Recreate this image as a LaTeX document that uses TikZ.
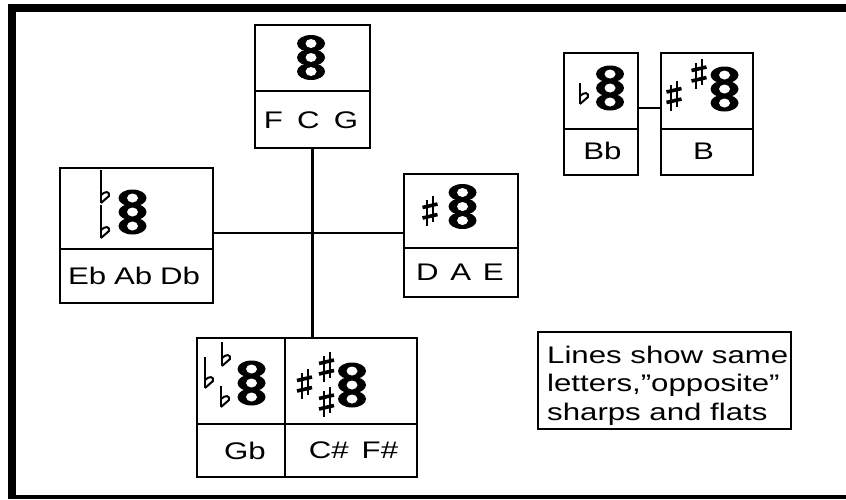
\documentclass[tikz,border=0pt]{standalone}
\usepackage{fontspec}
\setmainfont{Liberation Sans}
\usepackage{graphicx}
\newcommand\sx[1]{\scalebox{1.3}[1]{#1}}
\newcommand\flatat[3]{%
  \draw[line width=2pt] (#1,#2) -- (#1,#3);
  \draw[line width=2pt, line join=round] (#1,#3-8) .. controls (#1+4,#3-12) and (#1+9,#3-12) .. (#1+8,#3-7) -- (#1,#3);}
\tikzset{
  cell/.style={draw, line width=2.1pt, inner sep=0pt, outer sep=0pt},
  conn/.style={line width=2.1pt},
  labeltext/.style={inner sep=0pt, font=\fontsize{24}{24}\selectfont},
  legendtext/.style={inner sep=0pt, anchor=base west, font=\fontsize{24}{24}\selectfont},
  triad/.pic={
    \foreach \dy in {-14,0,14} \fill[black] (0,\dy) ellipse [x radius=14pt, y radius=8.5pt];
    \foreach \dy in {-14,0,14} \fill[white] (0,\dy) ellipse [x radius=5.5pt, y radius=4.5pt];
  },
  sharpsign/.pic={
    \draw[line width=2pt] (-3,-11) -- (-3,15) (3,-15) -- (3,11);
    \draw[line width=3.6pt] (-7.5,-3.5) -- (7.5,-7) (-7.5,7) -- (7.5,3.5);
  }
}
\begin{document}
\begin{tikzpicture}[x=1pt,y=-1pt]
\useasboundingbox (0,0) rectangle (846,499);
% frame
\fill (8,4) rectangle (846,12);
\fill (8,4) rectangle (16,499);
\fill (8,495) rectangle (846,499);

% F C G
\node[cell, minimum width=115pt, minimum height=66pt] (fcgU) at (312.5,58) {};
\node[cell, minimum width=115pt, minimum height=57pt] (fcgL) at (312.5,119.5) {};
\pic at (311,57.5) {triad};
\node[labeltext] (fcgT) at (311,120) {\sx{F\hspace{11pt}C\hspace{11pt}G}};

% Eb Ab Db
\node[cell, minimum width=153pt, minimum height=81pt] (flU) at (136.5,208.5) {};
\node[cell, minimum width=153pt, minimum height=54pt] (flL) at (136.5,276) {};
\pic at (132.5,212) {triad};
\flatat{101}{170}{203}
\flatat{101}{205}{238}
\node[labeltext] (flT) at (134,276) {\sx{Eb\hspace{6pt}Ab\hspace{6pt}Db}};

% D A E
\node[cell, minimum width=114pt, minimum height=74pt] (daeU) at (461,211) {};
\node[cell, minimum width=114pt, minimum height=49pt] (daeL) at (461,272.5) {};
\pic at (462.5,206.5) {triad};
\pic at (430,211) {sharpsign};
\node[labeltext] (daeT) at (460,272.5) {\sx{D\hspace{9pt}A\hspace{9pt}E}};

% Gb and C# F#
\node[cell, minimum width=88pt, minimum height=86pt] (gbU) at (241,381) {};
\node[cell, minimum width=88pt, minimum height=53pt] (gbL) at (241,450.5) {};
\node[cell, minimum width=132pt, minimum height=86pt] (csU) at (351,381) {};
\node[cell, minimum width=132pt, minimum height=53pt] (csL) at (351,450.5) {};
\pic at (251.5,383) {triad};
\flatat{205}{357}{388}
\flatat{222}{342}{366}
\flatat{221}{386}{407}
\node[labeltext] (gbT) at (245,450.5) {\sx{Gb}};
\pic at (352,385) {triad};
\pic at (304.5,384) {sharpsign};
\pic at (326.5,367) {sharpsign};
\pic at (326.5,402) {sharpsign};
\node[labeltext] (csT) at (353.5,450.5) {\sx{C\#\hspace{10pt}F\#}};

% Bb and B
\node[cell, minimum width=74pt, minimum height=76pt] (bbU) at (601,91) {};
\node[cell, minimum width=74pt, minimum height=46pt] (bbL) at (601,152) {};
\node[cell, minimum width=92pt, minimum height=76pt] (bU) at (707,91) {};
\node[cell, minimum width=92pt, minimum height=46pt] (bL) at (707,152) {};
\pic at (610,88) {triad};
\flatat{580}{83}{104}
\node[labeltext] (bbT) at (602.5,151) {\sx{Bb}};
\pic at (724.5,89) {triad};
\pic at (674,95.5) {sharpsign};
\pic at (699,74) {sharpsign};
\node[labeltext] (bT) at (703.5,151) {\sx{B}};

% connectors
\coordinate (hy) at (0,233);
\coordinate (by) at (0,108);
\draw[conn] (fcgL.south) -- (fcgL.south |- csU.north);
\draw[conn] (flU.east |- hy) -- (daeU.west |- hy);
\draw[conn] (bbU.east |- by) -- (bU.west |- by);

% legend
\node[cell, minimum width=253pt, minimum height=97pt] (legend) at (664.5,380.5) {};
\node[legendtext] (lg1) at (547,363) {\sx{Lines show same}};
\node[legendtext] (lg2) at (547,391.5) {\sx{letters,"opposite"}};
\node[legendtext] (lg3) at (547,420) {\sx{sharps and flats}};
\end{tikzpicture}
\end{document}
